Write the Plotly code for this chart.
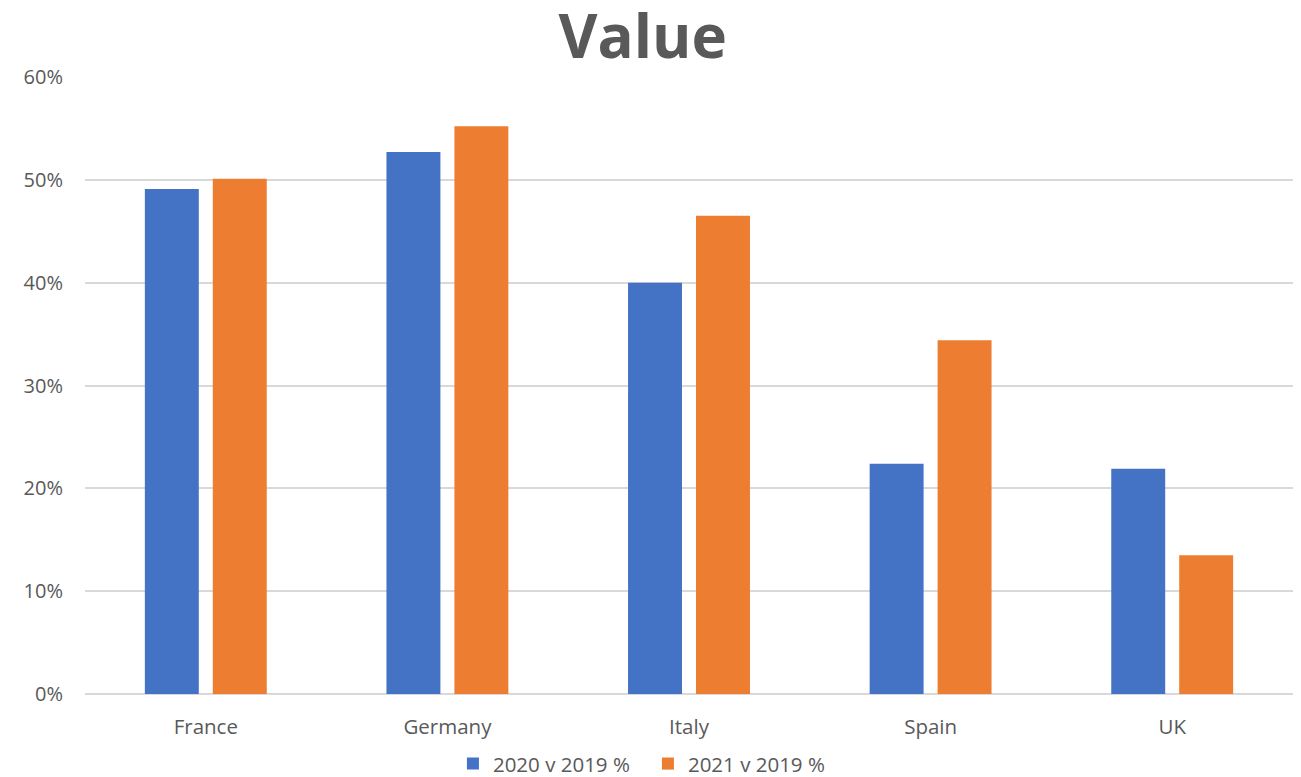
import plotly.graph_objects as go

countries = ["France", "Germany", "Italy", "Spain", "UK"]
v2020 = [0.491, 0.527, 0.400, 0.224, 0.219]
v2021 = [0.501, 0.552, 0.465, 0.344, 0.135]
y_ticks = [0, 0.1, 0.2, 0.3, 0.4, 0.5, 0.6]

FONT = "Open Sans"
GREY = "#595959"

fig = go.Figure()
fig.add_trace(go.Bar(name="2020 v 2019 %", x=countries, y=v2020,
                     marker=dict(color="#4472C4", line=dict(width=0))))
fig.add_trace(go.Bar(name="2021 v 2019 %", x=countries, y=v2021,
                     marker=dict(color="#ED7D31", line=dict(width=0))))

fig.update_layout(
    width=1301, height=777,
    paper_bgcolor="white", plot_bgcolor="white",
    margin=dict(l=85, r=8, t=77, b=83, autoexpand=False),
    barmode="group", bargap=0.4375, bargroupgap=0.206,
    title=dict(text="<b>Value</b>", x=0.494, xanchor="center",
               yref="container", y=0.952, yanchor="middle",
               font=dict(family=FONT, size=60, color=GREY)),
    font=dict(family=FONT, color=GREY, size=20),
    xaxis=dict(showgrid=False, showline=False, ticks="", automargin=False,
               ticklabelstandoff=18,
               tickfont=dict(size=20.5, color=GREY)),
    yaxis=dict(range=[0, 0.6], tickvals=y_ticks, tickformat=".0%",
               showgrid=True, gridcolor="#D9D9D9", gridwidth=1.5,
               zeroline=True, zerolinecolor="#D9D9D9", zerolinewidth=1.5,
               ticks="", ticklabelstandoff=21, automargin=False,
               tickfont=dict(size=20, color=GREY)),
    legend=dict(orientation="h", x=0.466, xanchor="center",
                yref="container", y=0.017, yanchor="middle",
                font=dict(size=20.5, color=GREY), itemwidth=30,
                entrywidth=150, entrywidthmode="pixels",
                traceorder="normal", tracegroupgap=0),
)

fig.write_html("out.html")
